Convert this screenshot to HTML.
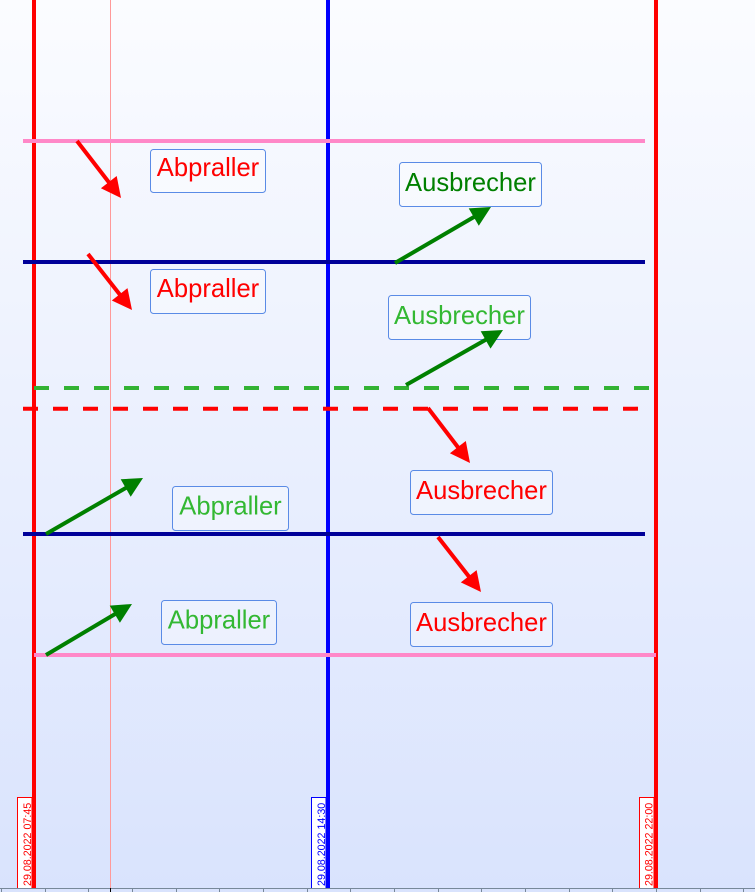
<!DOCTYPE html>
<html><head><meta charset="utf-8"><style>
html,body{margin:0;padding:0;}
body{width:755px;height:892px;overflow:hidden;background:linear-gradient(#fbfcff 0px,#d9e3fd 888px,#d9e3fd 892px);}
svg{display:block;}
text{font-family:"Liberation Sans",Arial,sans-serif;}
</style></head><body>
<svg width="755" height="892" viewBox="0 0 755 892" xmlns="http://www.w3.org/2000/svg">
<!-- faint vertical -->
<rect x="110" y="0" width="1" height="888" fill="#ff9999"/>
<!-- vertical lines -->
<rect x="32" y="0" width="4" height="888" fill="#ff0000"/>
<rect x="326" y="0" width="4" height="888" fill="#0000ff"/>
<rect x="654" y="0" width="4" height="888" fill="#ff0000"/>

<!-- horizontal lines -->
<rect x="23" y="139" width="622" height="4" fill="#ff88c8"/>
<rect x="23" y="260" width="622" height="4" fill="#000099"/>
<line x1="34" y1="388" x2="650" y2="388" stroke="#33b233" stroke-width="4" stroke-dasharray="15 15"/>
<line x1="23" y1="408.7" x2="638" y2="408.7" stroke="#ff0000" stroke-width="4" stroke-dasharray="15 15"/>
<rect x="23" y="532" width="622" height="4" fill="#000099"/>
<rect x="34" y="653" width="622" height="4" fill="#ff88c8"/>

<!-- label boxes -->
<g fill="rgba(255,255,255,0.35)" stroke="#5a8be6" stroke-width="1">
<rect x="150.5" y="149.5" width="115" height="43" rx="3"/>
<rect x="150.5" y="269.5" width="115" height="44" rx="3"/>
<rect x="399.5" y="162.5" width="142" height="44" rx="3"/>
<rect x="388.5" y="295.5" width="142" height="44" rx="3"/>
<rect x="410.5" y="470.5" width="142" height="44" rx="3"/>
<rect x="410.5" y="602.5" width="142" height="44" rx="3"/>
<rect x="172.5" y="486.5" width="116" height="44" rx="3"/>
<rect x="161.5" y="600.5" width="115" height="44" rx="3"/>
</g>
<g font-size="25.6" text-anchor="middle">
<text x="208" y="176" fill="#ff0000">Abpraller</text>
<text x="208" y="297" fill="#ff0000">Abpraller</text>
<text x="470.5" y="191" fill="#008000">Ausbrecher</text>
<text x="459.5" y="324" fill="#33b833">Ausbrecher</text>
<text x="481.5" y="499" fill="#ff0000">Ausbrecher</text>
<text x="481.5" y="631" fill="#ff0000">Ausbrecher</text>
<text x="230.5" y="514.5" fill="#33b833">Abpraller</text>
<text x="219" y="628.5" fill="#33b833">Abpraller</text>
</g>

<!-- arrows -->
<g stroke-width="4" stroke-linecap="butt">
<line x1="77" y1="141" x2="112.4" y2="186.9" stroke="#ff0000"/>
<line x1="88" y1="254" x2="123.3" y2="299.0" stroke="#ff0000"/>
<line x1="395" y1="263" x2="478.9" y2="214.1" stroke="#008000"/>
<line x1="406" y1="385" x2="490.8" y2="336.9" stroke="#008000"/>
<line x1="428" y1="408" x2="461.5" y2="451.9" stroke="#ff0000"/>
<line x1="438" y1="537" x2="472.4" y2="581.0" stroke="#ff0000"/>
<line x1="46" y1="534" x2="130.9" y2="485" stroke="#008000"/>
<line x1="46" y1="655" x2="120.0" y2="611.1" stroke="#008000"/>
</g>
<polygon points="121,198 100.9,188.3 116.7,176.0" fill="#ff0000"/>
<polygon points="132,310 111.8,300.5 127.5,288.1" fill="#ff0000"/>
<polygon points="491,207 478.8,225.7 468.7,208.4" fill="#008000"/>
<polygon points="503,330 490.5,348.6 480.7,331.2" fill="#008000"/>
<polygon points="470,463 449.9,453.2 465.8,441.0" fill="#ff0000"/>
<polygon points="481,592 460.8,582.4 476.6,570.1" fill="#ff0000"/>
<polygon points="143,478 130.7,496.7 120.7,479.3" fill="#008000"/>
<polygon points="132,604 119.9,622.8 109.7,605.6" fill="#008000"/>

<!-- date labels -->
<rect x="17.5" y="797.5" width="14.5" height="91" fill="#ffffff" stroke="#ff0000" stroke-width="1"/>
<rect x="311.5" y="797.5" width="14.5" height="91" fill="#ffffff" stroke="#0000ff" stroke-width="1"/>
<rect x="639.5" y="797.5" width="14.5" height="91" fill="#ffffff" stroke="#ff0000" stroke-width="1"/>
<g font-size="10.7">
<text transform="translate(31,886) rotate(-90)" fill="#ff0000">29.08.2022 07:45</text>
<text transform="translate(325,886) rotate(-90)" fill="#0000ff">29.08.2022 14:30</text>
<text transform="translate(652.5,886) rotate(-90)" fill="#ff0000">29.08.2022 22:00</text>
</g>

<!-- axis -->
<rect x="0" y="888" width="755" height="1" fill="#778899"/>
<g fill="#778899">
<rect x="1" y="888" width="1" height="4"/>
<rect x="45" y="888" width="1" height="4"/>
<rect x="88" y="888" width="1" height="4"/>
<rect x="132" y="888" width="1" height="4"/>
<rect x="176" y="888" width="1" height="4"/>
<rect x="219" y="888" width="1" height="4"/>
<rect x="263" y="888" width="1" height="4"/>
<rect x="307" y="888" width="1" height="4"/>
<rect x="350" y="888" width="1" height="4"/>
<rect x="394" y="888" width="1" height="4"/>
<rect x="438" y="888" width="1" height="4"/>
<rect x="481" y="888" width="1" height="4"/>
<rect x="525" y="888" width="1" height="4"/>
<rect x="569" y="888" width="1" height="4"/>
<rect x="612" y="888" width="1" height="4"/>
<rect x="656" y="888" width="1" height="4"/>
<rect x="700" y="888" width="1" height="4"/>
<rect x="743" y="888" width="1" height="4"/>
</g>
<rect x="110" y="888" width="1" height="4" fill="#000000"/>
</svg>
</body></html>
